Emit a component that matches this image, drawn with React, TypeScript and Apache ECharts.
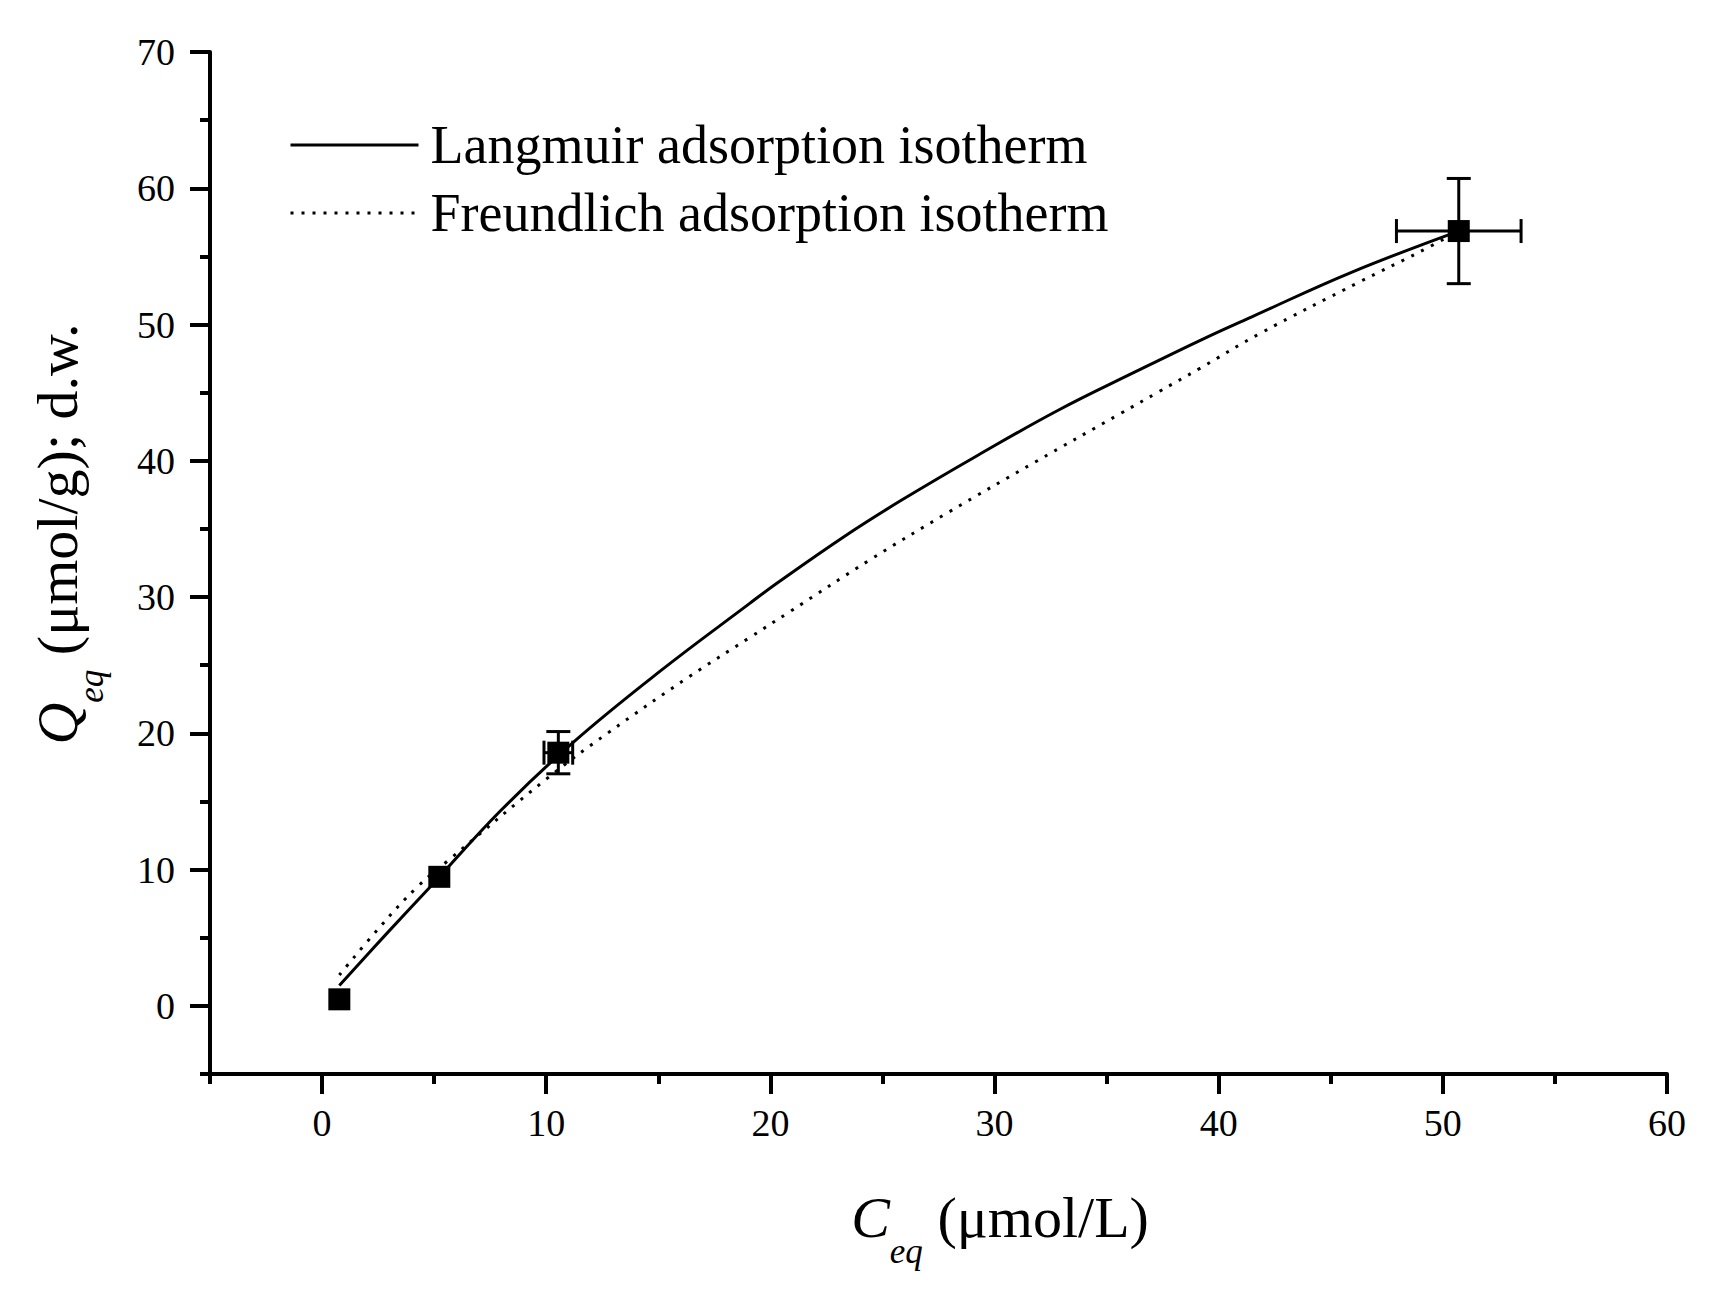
import React, { useEffect, useRef } from 'react';
import * as echarts from 'echarts';

const FONT = '"Liberation Serif", "Times New Roman", serif';

const seriesNames = ['Langmuir adsorption isotherm', 'Freundlich adsorption isotherm'];

// experimental points
const pointC = [0.77, 5.23, 10.54, 50.71];
const pointQ = [0.48, 9.47, 18.58, 56.86];
const errC = [0, 0, 0.64, 2.78];
const errQ = [0, 0, 1.55, 3.86];

// fitted curves
const langmuirC = [0.77, 2.89, 4.83, 7.95, 11.23, 15.11, 19.05, 20.32, 23.3, 25.84, 29.26, 32.84, 36.27, 39.25, 41.48, 45.95, 50.71];
const langmuirQ = [1.5, 5.32, 8.74, 14.3, 19.38, 24.6, 29.5, 31.05, 34.45, 37.1, 40.41, 43.71, 46.52, 48.9, 50.57, 53.85, 56.86];
const freundlichC = [0.77, 2.59, 4.23, 5.65, 10.04, 12.72, 16.37, 19.05, 20.84, 24.42, 27.92, 31.8, 35.6, 37.31, 39.18, 41.85, 46.25, 48.93, 50.71];
const freundlichQ = [2.26, 5.81, 8.7, 10.7, 16.69, 19.99, 24.15, 27.0, 28.9, 32.71, 36.2, 39.9, 43.45, 45.05, 46.8, 49.35, 53.1, 55.3, 56.86];

// axes
const xMin = -5, xMax = 60, yMin = -5, yMax = 70, minorStep = 5;
const xMajorTicks = [0, 10, 20, 30, 40, 50, 60];
const yMajorTicks = [0, 10, 20, 30, 40, 50, 60, 70];
const xTitle = '{c|C}{sub|eq}{n| (μmol/L)}';
const yTitle = '{c|Q}{sub|eq}{n| (μmol/g); d.w.}';

const titleRich = {
  c: { fontFamily: FONT, fontSize: 58, fontStyle: 'italic', lineHeight: 104, color: '#000' },
  sub: { fontFamily: FONT, fontSize: 35, fontStyle: 'italic', lineHeight: 35, verticalAlign: 'bottom', color: '#000' },
  n: { fontFamily: FONT, fontSize: 58, lineHeight: 104, color: '#000' },
};

export default function App() {
  const ref = useRef<HTMLDivElement>(null);
  useEffect(() => {
    if (!ref.current) return;
    const chart = echarts.init(ref.current, null, { renderer: 'svg' });
    const zip = (a: number[], b: number[]) => a.map((v, i) => [v, b[i]]);
    const black = '#000';
    const mainAxisLine = { show: true, onZero: false, lineStyle: { color: black, width: 4 } };
    const option: any = {
      animation: false,
      backgroundColor: '#fff',
      grid: { left: 210, right: 53, top: 52, bottom: 217, containLabel: false },
      legend: {
        data: seriesNames,
        orient: 'vertical',
        left: 289,
        top: 115,
        padding: 0,
        itemGap: 8,
        itemWidth: 128,
        itemHeight: 20,
        itemStyle: { color: 'rgba(0,0,0,0)', borderColor: 'rgba(0,0,0,0)', borderWidth: 0, opacity: 0 },
        lineStyle: { width: 3, color: black },
        textStyle: { fontFamily: FONT, fontSize: 54, color: black, lineHeight: 60, padding: [0, 0, 0, 7] },
      },
      xAxis: [
        {
          type: 'value', min: xMin, max: xMax, interval: minorStep, position: 'bottom',
          axisLine: mainAxisLine,
          axisTick: { show: true, length: 20, lineStyle: { color: black, width: 4 }, customValues: xMajorTicks },
          axisLabel: { customValues: xMajorTicks, fontFamily: FONT, fontSize: 38, color: black, margin: 30 },
          splitLine: { show: false },
        },
        {
          type: 'value', min: xMin, max: xMax, interval: minorStep, position: 'bottom', gridIndex: 0,
          axisLine: { show: false, onZero: false },
          axisTick: { show: true, length: 10, lineStyle: { color: black, width: 4 } },
          axisLabel: { show: false },
          splitLine: { show: false },
        },
      ],
      yAxis: [
        {
          type: 'value', min: yMin, max: yMax, interval: minorStep, position: 'left',
          axisLine: mainAxisLine,
          axisTick: { show: true, length: 20, lineStyle: { color: black, width: 4 }, customValues: yMajorTicks },
          axisLabel: { customValues: yMajorTicks, fontFamily: FONT, fontSize: 38, color: black, margin: 35 },
          splitLine: { show: false },
        },
        {
          type: 'value', min: yMin, max: yMax, interval: minorStep, position: 'left', gridIndex: 0,
          axisLine: { show: false, onZero: false },
          axisTick: { show: true, length: 10, lineStyle: { color: black, width: 4 } },
          axisLabel: { show: false },
          splitLine: { show: false },
        },
      ],
      graphic: [
        {
          type: 'text', x: 1000, y: 1217,
          style: { text: xTitle, rich: titleRich, align: 'center', verticalAlign: 'middle', textAlign: 'center', textVerticalAlign: 'middle', fill: black },
        },
        {
          type: 'text', x: 57, y: 534, rotation: Math.PI / 2,
          style: { text: yTitle, rich: titleRich, align: 'center', verticalAlign: 'middle', textAlign: 'center', textVerticalAlign: 'middle', fill: black },
        },
      ],
      series: [
        {
          name: seriesNames[0], type: 'line', data: zip(langmuirC, langmuirQ), smooth: 0.4,
          symbol: 'none', lineStyle: { color: black, width: 3, type: 'solid' }, itemStyle: { color: black }, z: 3,
        },
        {
          name: seriesNames[1], type: 'line', data: zip(freundlichC, freundlichQ), smooth: 0.4,
          symbol: 'none', lineStyle: { color: black, width: 3, type: [3, 8], cap: 'butt' }, itemStyle: { color: black }, z: 3,
        },
        {
          name: 'errors', type: 'custom', z: 4,
          data: pointC.map((c, i) => [c, pointQ[i], errC[i], errQ[i]]),
          renderItem: (params: any, api: any) => {
            const x = api.value(0), y = api.value(1), xe = api.value(2), ye = api.value(3);
            const cap = 12;
            const st = { stroke: black, lineWidth: 3 };
            const children: any[] = [];
            if (ye > 0) {
              const t = api.coord([x, y + ye]);
              const b = api.coord([x, y - ye]);
              children.push({ type: 'line', shape: { x1: t[0], y1: t[1], x2: b[0], y2: b[1] }, style: st });
              children.push({ type: 'line', shape: { x1: t[0] - cap, y1: t[1], x2: t[0] + cap, y2: t[1] }, style: st });
              children.push({ type: 'line', shape: { x1: b[0] - cap, y1: b[1], x2: b[0] + cap, y2: b[1] }, style: st });
            }
            if (xe > 0) {
              const l = api.coord([x - xe, y]);
              const r = api.coord([x + xe, y]);
              children.push({ type: 'line', shape: { x1: l[0], y1: l[1], x2: r[0], y2: r[1] }, style: st });
              children.push({ type: 'line', shape: { x1: l[0], y1: l[1] - cap, x2: l[0], y2: l[1] + cap }, style: st });
              children.push({ type: 'line', shape: { x1: r[0], y1: r[1] - cap, x2: r[0], y2: r[1] + cap }, style: st });
            }
            return { type: 'group', children };
          },
        },
        {
          name: 'data', type: 'scatter', data: zip(pointC, pointQ), symbol: 'rect', symbolSize: 22,
          itemStyle: { color: black, opacity: 1 }, z: 5,
        },
      ],
    };
    chart.setOption(option);
    return () => chart.dispose();
  }, []);
  return (
    <div
      ref={ref}
      style={{ position: 'absolute', left: 0, top: 0, width: 1720, height: 1291, background: '#fff' }}
    />
  );
}
